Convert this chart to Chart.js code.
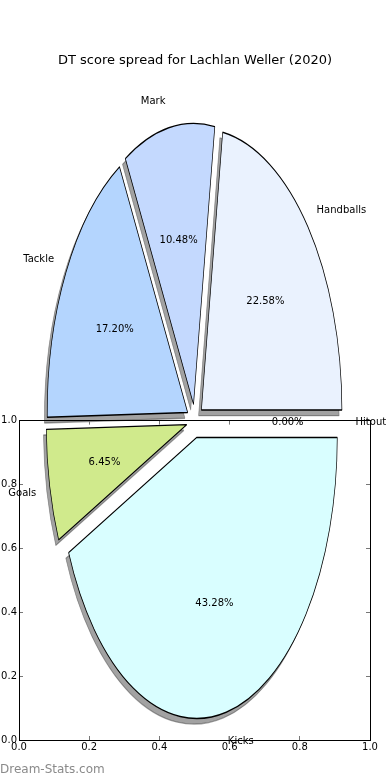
<!DOCTYPE html>
<html>
<head>
<meta charset="utf-8">
<script src="https://cdn.jsdelivr.net/npm/chart.js@4/dist/chart.umd.min.js"></script>
<style>
  html, body { margin: 0; padding: 0; background: #fff; }
  #wrap { position: relative; width: 390px; height: 780px; }
  #wrap canvas { position: absolute; left: 0; top: 0; }
  #mark { position: absolute; left: 0; top: 762px; font: 12px "DejaVu Sans", sans-serif; color: #8a8a8a; }
</style>
</head>
<body>
<div id="wrap">
  <canvas id="pie-chart" width="390" height="780"></canvas>
  <canvas id="axes-chart" width="390" height="780"></canvas>
  <div id="mark">Dream-Stats.com</div>
</div>
<script>
// data (matplotlib order, counter-clockwise from 3 o'clock)
const categories = ["Handballs", "Mark", "Tackle", "Goals", "Kicks", "Hitout"];
const dtPoints = [84, 39, 64, 24, 161, 0];
const sliceColors = ["#eaf2fe", "#c4d9fe", "#b4d5fe", "#d0ea8c", "#d9feff", "#f0e0ff"];
const axisTicks = [0, 0.2, 0.4, 0.6, 0.8, 1.0];
const titleText = "DT score spread for Lachlan Weller (2020)";

const FONT = "DejaVu Sans";
const RADIUS = 140.5;    // horizontal radius
const STRETCH = 2.0;     // pie is squashed into an ellipse
const EXPLODE = 0.06;
const SHADOW = 0.02;

// chart.js goes clockwise, so feed it reversed
const pieLabels = categories.slice().reverse();
const pieData = dtPoints.slice().reverse();
const pieColors = sliceColors.slice().reverse();
const total = dtPoints.reduce((a, b) => a + b, 0);

function midOf(arc) {
  return (arc.startAngle + arc.endAngle) / 2;
}

// draw exploded + shadowed wedges stretched vertically
const stretchPie = {
  id: "stretchPie",
  beforeDatasetsDraw(chart) {
    const ctx = chart.ctx;
    const arcs = chart.getDatasetMeta(0).data;
    ["shadow", "wedge"].forEach((pass) => {
      arcs.forEach((arc) => {
        if (!arc.circumference) return;
        const mid = midOf(arc);
        const d = EXPLODE * arc.outerRadius;
        ctx.save();
        ctx.translate(arc.x, arc.y);
        ctx.scale(1, STRETCH);
        ctx.translate(-arc.x, -arc.y);
        ctx.translate(Math.cos(mid) * d, Math.sin(mid) * d);
        if (pass === "shadow") {
          ctx.translate(-SHADOW * arc.outerRadius, SHADOW * arc.outerRadius);
          const o = arc.options;
          arc.options = Object.assign({}, o, {
            backgroundColor: "rgba(60,60,60,0.48)",
            borderColor: "rgba(60,60,60,0.48)",
          });
          arc.draw(ctx);
          arc.options = o;
        } else {
          arc.draw(ctx);
        }
        ctx.restore();
      });
    });
    return false;
  },
  // labels go here, afterDatasetsDraw is skipped once the default draw is cancelled
  afterDraw(chart) {
    const ctx = chart.ctx;
    const arcs = chart.getDatasetMeta(0).data;
    ctx.save();
    ctx.fillStyle = "#000";
    ctx.font = "10px '" + FONT + "'";
    ctx.textBaseline = "middle";
    arcs.forEach((arc, i) => {
      const mid = midOf(arc);
      const r = arc.outerRadius;
      const cx = arc.x + Math.cos(mid) * EXPLODE * r;
      const cy = arc.y + Math.sin(mid) * EXPLODE * r * STRETCH + 1.5;
      // category label
      ctx.textAlign = Math.cos(mid) > 0 ? "left" : "right";
      ctx.fillText(
        pieLabels[i],
        cx + Math.cos(mid) * 1.09 * r - 1,
        cy + Math.sin(mid) * 1.1 * r * STRETCH
      );
      // percentage
      ctx.textAlign = "center";
      const pct = ((pieData[i] / total) * 100).toFixed(2) + "%";
      ctx.fillText(pct, cx + Math.cos(mid) * 0.6 * r, cy + Math.sin(mid) * 0.6 * r * STRETCH);
    });
    ctx.restore();
  },
};

new Chart(document.getElementById("pie-chart"), {
  type: "pie",
  data: {
    labels: pieLabels,
    datasets: [
      {
        data: pieData,
        backgroundColor: pieColors,
        borderColor: "#000",
        borderWidth: 0.7,
      },
    ],
  },
  options: {
    responsive: false,
    animation: false,
    rotation: 90,
    radius: RADIUS,
    layout: { padding: { left: 0, right: 0, top: 280, bottom: 218 } },
    plugins: { legend: { display: false }, tooltip: { enabled: false } },
  },
  plugins: [stretchPie],
});

// the empty 0..1 axes that sits over the lower half
const tickGrid = {
  drawOnChartArea: false,
  drawTicks: true,
  tickLength: -4,
  color: "#777",
  lineWidth: 1,
};
const edge = { display: true, color: "#000", width: 1 };
const tickFont = { family: FONT, size: 10 };

new Chart(document.getElementById("axes-chart"), {
  type: "scatter",
  data: { datasets: [] },
  options: {
    responsive: false,
    animation: false,
    layout: { padding: 0 },
    scales: {
      x: {
        type: "linear",
        position: "bottom",
        min: 0,
        max: 1,
        afterBuildTicks: (s) => { s.ticks = axisTicks.map((v) => ({ value: v })); },
        ticks: { color: "#000", font: tickFont, padding: 5, callback: (v) => v.toFixed(1), maxRotation: 0 },
        grid: tickGrid,
        border: edge,
        afterFit: (s) => { s.height = 40; },
      },
      x2: {
        type: "linear",
        position: "top",
        min: 0,
        max: 1,
        afterBuildTicks: (s) => { s.ticks = axisTicks.map((v) => ({ value: v })); },
        ticks: { display: false },
        grid: tickGrid,
        border: edge,
        afterFit: (s) => { s.height = 0; },
      },
      y: {
        type: "linear",
        position: "left",
        min: 0,
        max: 1,
        afterBuildTicks: (s) => { s.ticks = axisTicks.map((v) => ({ value: v })); },
        ticks: { color: "#000", font: tickFont, padding: 6, callback: (v) => v.toFixed(1) },
        grid: tickGrid,
        border: edge,
        afterFit: (s) => { s.width = 19; },
      },
      y2: {
        type: "linear",
        position: "right",
        min: 0,
        max: 1,
        afterBuildTicks: (s) => { s.ticks = axisTicks.map((v) => ({ value: v })); },
        ticks: { display: false },
        grid: tickGrid,
        border: edge,
        afterFit: (s) => { s.width = 20; },
      },
    },
    plugins: {
      legend: { display: false },
      tooltip: { enabled: false },
      title: {
        display: true,
        text: titleText,
        color: "#000",
        font: { family: FONT, size: 13, weight: "normal" },
        padding: { top: 53, bottom: 352 },
      },
    },
  },
});
</script>
</body>
</html>
